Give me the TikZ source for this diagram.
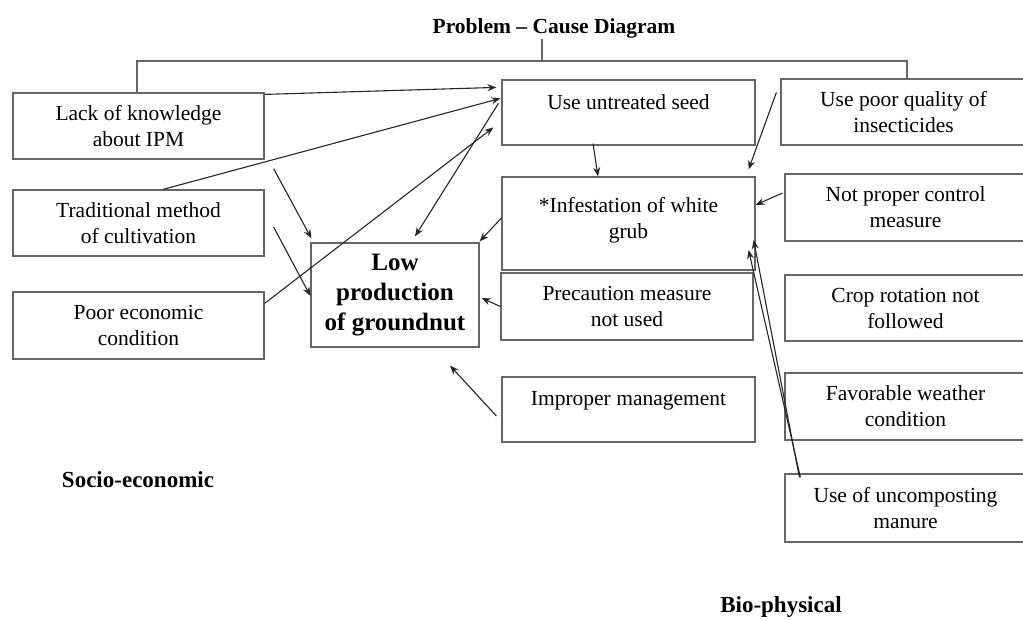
\documentclass[tikz,border=0pt]{standalone}
\usepackage{fontspec}
\setmainfont{Liberation Serif}
\usetikzlibrary{arrows.meta}
\begin{document}
\begin{tikzpicture}[x=1pt,y=-1pt,
  box/.style={draw=black!60, line width=1.2pt, rectangle, inner sep=2pt, align=center,
    font=\fontsize{21.5}{26}\selectfont, text=black},
  mainbox/.style={box, font=\fontsize{25}{30}\selectfont\bfseries},
  heading/.style={font=\fontsize{21.5}{25}\selectfont\bfseries, inner sep=1pt},
  sidelabel/.style={font=\fontsize{23}{27}\selectfont\bfseries, inner sep=1pt},
  conn/.style={draw=black!85, line width=1.1pt, -{Stealth[length=9pt,width=7pt]}},
  plain/.style={draw=black!60, line width=1.2pt}
]
\useasboundingbox (0,0) rectangle (1023,621);
\fill[white] (0,0) rectangle (1023,621);

% title and category labels
\node[heading] (title) at (554,28) {Problem -- Cause Diagram};
\node[sidelabel] (socio) at (138,480) {Socio-economic};
\node[sidelabel] (bio) at (781,607) {Bio-physical};

% left column
\node[box, minimum width=251pt, minimum height=66pt] (lack) at (138.5,126) {Lack of knowledge\\about IPM};
\node[box, minimum width=251pt, minimum height=66pt] (trad) at (138.5,223) {Traditional method\\of cultivation};
\node[box, minimum width=251pt, minimum height=67pt] (poor) at (138.5,325.5) {Poor economic\\condition};

% central problem
\node[mainbox, minimum width=168pt, minimum height=104pt] (low) at (395,295) {Low\\production\\of groundnut};

% middle column
\node[box, minimum width=253pt, minimum height=65pt] (seed) at (628.5,112.5) {Use untreated seed\\[-6pt]\mbox{}};
\node[box, minimum width=253pt, minimum height=93pt] (grub) at (628.5,223.5) {*Infestation of white\\grub\\[-14pt]\mbox{}};
\node[box, minimum width=252pt, minimum height=67pt] (prec) at (627,306.5) {Precaution measure\\not used};
\node[box, minimum width=253pt, minimum height=65pt] (mgmt) at (628.5,409.5) {Improper management\\[-4pt]\mbox{}};

% right column
\node[box, minimum width=245pt, minimum height=66pt] (insect) at (903.5,112) {Use poor quality of\\insecticides};
\node[box, minimum width=241pt, minimum height=67pt] (control) at (905.5,207.5) {Not proper control\\measure};
\node[box, minimum width=241pt, minimum height=66pt] (crop) at (905.5,308) {Crop rotation not\\followed};
\node[box, minimum width=241pt, minimum height=67pt] (weather) at (905.5,406.5) {Favorable weather\\condition};
\node[box, minimum width=241pt, minimum height=68pt] (manure) at (905.5,508) {Use of uncomposting\\manure};

% top bracket
\coordinate (brk) at (542,61);
\draw[plain] ([xshift=-1.5pt]lack.north) |- (brk) -| ([xshift=3.5pt]insect.north);
\draw[plain] (brk) -- (brk |- title.south);

% connectors
\draw[conn] ([yshift=-2pt]lack.north east) -- ([xshift=-5pt,yshift=-8pt]seed.north west);
\draw[conn] ([xshift=24.5pt]trad.north) -- ([xshift=-1pt,yshift=-19pt]seed.north west);
\draw[conn] ([yshift=-12pt]poor.north east) -- ([xshift=-8pt,yshift=-48pt]seed.north west);
\draw[conn] ([xshift=-3pt,yshift=-24pt]seed.north west) -- ([xshift=20pt,yshift=6pt]low.north);
\draw[conn] ([xshift=9pt,yshift=-9pt]lack.south east) -- ([xshift=1pt,yshift=4pt]low.north west);
\draw[conn] ([xshift=9pt,yshift=-4pt]trad.east) -- ([yshift=-1pt]low.west);
\draw[conn] ([xshift=-35.5pt,yshift=2pt]seed.south) -- ([xshift=-30.5pt]grub.north);
\draw[conn] ([xshift=-4pt,yshift=-14pt]insect.north west) -- ([xshift=-7pt,yshift=7pt]grub.north east);
\draw[conn] ([xshift=-2pt,yshift=14.5pt]control.west) -- ([yshift=18.5pt]grub.east);
\draw[conn] ([yshift=5.5pt]grub.west) -- ([xshift=0pt,yshift=1pt]low.north east);
\draw[conn] (prec.west) -- ([xshift=2pt,yshift=-3pt]low.east);
\draw[conn] ([xshift=-5pt,yshift=-6.5pt]mgmt.west) -- ([xshift=55pt,yshift=-18pt]low.south);
\draw[conn] ([xshift=15pt,yshift=-4pt]manure.north west) -- ([xshift=-2pt,yshift=-16.5pt]grub.east);
\draw[conn] ([xshift=16pt,yshift=-4pt]manure.north west) -- ([xshift=-7pt,yshift=-26.5pt]grub.east);
\end{tikzpicture}
\end{document}
